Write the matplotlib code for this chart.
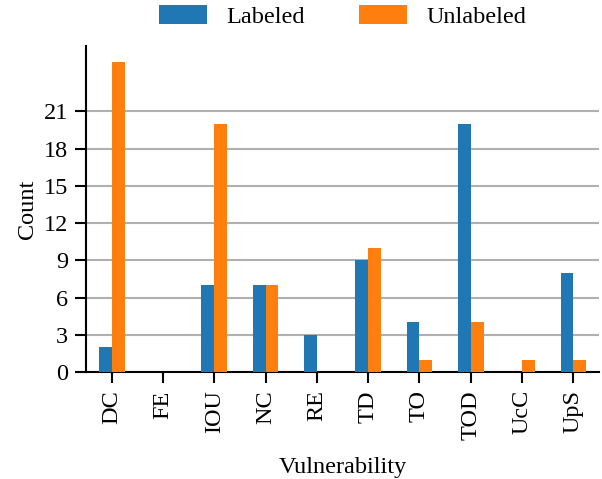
import numpy as np
import matplotlib
matplotlib.use("Agg")
import matplotlib.pyplot as plt

plt.rcParams['font.family'] = ['Liberation Serif', 'DejaVu Serif']
plt.rcParams['font.size'] = 17.5

kategorier = ["DC", "FE", "IOU", "NC", "RE", "TD", "TO", "TOD", "UcC", "UpS"]
labeled = [2, 0, 7, 7, 3, 9, 4, 20, 0, 8]
unlabeled = [25, 0, 20, 7, 0, 10, 1, 4, 1, 1]

fig = plt.figure(figsize=(6.02, 4.79), dpi=100)
ax = fig.add_axes([0.143, 0.223, 0.852, 0.681])

x = np.arange(len(kategorier))
w = 0.25
ax.bar(x - w / 2, labeled, w, color='#1f77b4', label='Labeled', zorder=3)
ax.bar(x + w / 2, unlabeled, w, color='#ff7f0e', label='Unlabeled', zorder=3)

ax.set_xlim(-0.5, len(kategorier) - 0.5)
ax.set_ylim(0, 26.25)
ax.set_yticks(range(0, 22, 3))
ax.set_xticks(x)
ax.set_xticklabels(kategorier, rotation=90)
ax.yaxis.grid(True, color='#b0b0b0', linewidth=1.5, zorder=0)
ax.set_axisbelow(True)

for s in ['top', 'right']:
    ax.spines[s].set_visible(False)
for s in ['left', 'bottom']:
    ax.spines[s].set_linewidth(1.5)
ax.tick_params(width=1.5, length=8, pad=5)

ax.set_xlabel('Vulnerability', labelpad=12)
ax.set_ylabel('Count')

# legenden sentrert over aksene, helt oppe i figuren
ax.legend(loc='upper center', bbox_to_anchor=(0.569, 1.01), bbox_transform=fig.transFigure,
          ncol=2, frameon=False, handlelength=1.97, handleheight=0.8,
          handletextpad=0.78, columnspacing=2.26, borderaxespad=0.0)

fig.savefig('out.png', dpi=100)
